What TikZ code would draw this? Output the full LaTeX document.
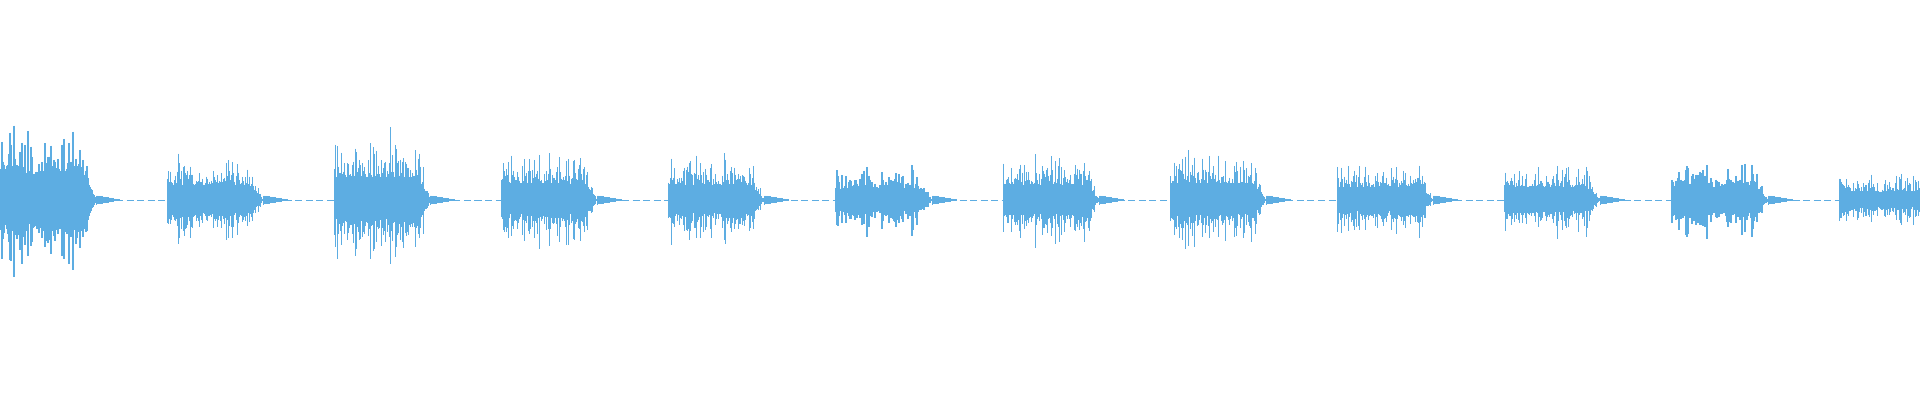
\documentclass[tikz,border=0pt]{standalone}
\definecolor{wave}{RGB}{93,173,226}
\tikzset{sample/.style={draw=wave,line width=0.35pt}}
\begin{document}
\begin{tikzpicture}
\useasboundingbox (0,0) rectangle (19.2,4);
\clip (0,0) rectangle (19.2,4);
\pgfmathsetseed{7}
% silent baseline
\draw[wave,line width=0.2pt,dash pattern=on 2pt off 1pt] (0,2) -- (19.2,2);
% bursts
\foreach \k/\a in {0/0.8,1/0.5,2/0.75,3/0.55,4/0.5,5/0.36,6/0.5,7/0.55,8/0.43,9/0.43,10/0.42,11/0.28}{
  \pgfmathsetmacro\xs{\k*1.672}
  \foreach \i in {0,...,95}{
    \pgfmathsetmacro\env{\i<82?1:(96-\i)/14}
    \pgfmathsetmacro\h{\a*\env*(0.3+0.7*rnd*rnd)}
    \pgfmathsetmacro\l{\h*(0.8+0.35*rnd)}
    \draw[sample] (\xs+\i*0.01,2+\h) -- (\xs+\i*0.01,2-\l);
  }
  \foreach \i in {96,...,120}{
    \pgfmathsetmacro\h{0.04*(121-\i)/25+0.005}
    \draw[sample,line width=0.25pt] (\xs+\i*0.01,2+\h) -- (\xs+\i*0.01,2-\h);
  }
}
\end{tikzpicture}
\end{document}
